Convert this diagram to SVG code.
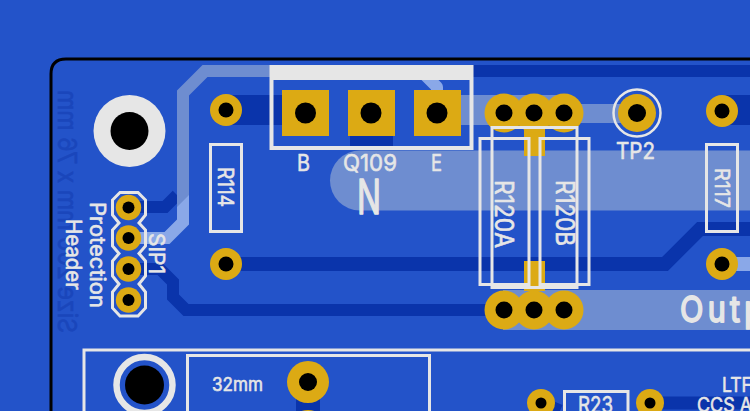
<svg xmlns="http://www.w3.org/2000/svg" width="750" height="411" viewBox="0 0 750 411">
<style>
.t{font-family:"Inter","Liberation Sans",sans-serif;fill:#e6e6e6;stroke:#e6e6e6;stroke-width:.6;stroke-linejoin:round}
.w{fill:none;stroke:#e6e6e6;stroke-width:3}
.d{fill:none;stroke:#0a34ab}
.l{fill:none;stroke:#6e8dd0}
.p{fill:none;stroke:#8aa8e8}
.g{fill:#dcaa14}
.h{fill:#000}
</style>
<rect width="750" height="411" fill="#2353c9"/>
<path d="M750 59H66Q51 59 51 74V411" fill="none" stroke="#000" stroke-width="3"/>
<g id="backtext"><text transform="translate(58,333) rotate(-90) scale(1,-1)" font-family="Inter,'Liberation Sans',sans-serif" font-size="26" fill="#1a46bb" stroke="#1a46bb" stroke-width=".6" textLength="243" lengthAdjust="spacingAndGlyphs">Size 200 mm x 76 mm</text></g>
<g id="connectors">
<path class="d" stroke-width="30" d="M226 110H290"/>
<path class="d" stroke-width="10" d="M350 141H393"/>
<path class="d" stroke-width="12" d="M470 71H750"/>
<path class="d" stroke-width="30" d="M722 110H750"/>
<path class="d" stroke-width="14" d="M226 264H665L700 229H750"/>
<path class="d" stroke-width="12" d="M128 207H165L177 195"/>
<path class="d" stroke-width="12" d="M128 269H160L173 282V297L186 310H500"/>
<path class="d" stroke-width="13" d="M650 403H750M541 403L560 411"/>
<path class="d" stroke-width="24" d="M308 395V411"/>
<path class="l" stroke-width="12" d="M183 207V93L205 71H275"/>
<path d="M177 207L189 195V224.500L169.500 244H128V232H164.500L177 219.500Z" fill="#8aa8e8"/>
<path class="p" stroke-width="12" stroke-linejoin="round" d="M422 72L437 87V100"/>
<path class="l" stroke-width="30" d="M461 110H565"/>
<path class="l" stroke-width="19" d="M565 113.500H630"/>
<path class="l" stroke-width="60" stroke-linecap="round" d="M360 180.500H790"/>
<path class="l" stroke-width="40" d="M503 310H750"/>
<path class="p" stroke-width="14" d="M722 264H750"/>
</g>
<g id="H1"><circle cx="129.500" cy="131" r="36" fill="#e6e6e6"/><circle cx="129.500" cy="131" r="19" class="h"/></g>
<g id="R114"><rect class="w" x="210.500" y="144.500" width="31" height="87"/><text class="t" font-size="21" text-anchor="middle" textLength="40" lengthAdjust="spacingAndGlyphs" transform="translate(218,187) rotate(90)">R114</text></g>
<g id="P1"><circle cx="226" cy="110" r="16" class="g"/><circle cx="226" cy="110" r="7.500" class="h"/></g>
<g id="P2"><circle cx="226" cy="264" r="16" class="g"/><circle cx="226" cy="264" r="7.500" class="h"/></g>
<g id="SIP1">
<path class="w" d="M120 192.500H138L145.500 200V215L139 223L145.500 230V246L139 253.500L145.500 261V276L139 284L145.500 292V308L138 316H120L112.500 308V292L119 284L112.500 276V261L119 253.500L112.500 246V230L119 223L112.500 215V200Z"/>
<circle cx="128.500" cy="207.500" r="12.700" class="g"/><circle cx="128.500" cy="207.500" r="6" class="h"/>
<circle cx="128.500" cy="238" r="12.700" class="g"/><circle cx="128.500" cy="238" r="6" class="h"/>
<circle cx="128.500" cy="269" r="12.700" class="g"/><circle cx="128.500" cy="269" r="6" class="h"/>
<circle cx="128.500" cy="300" r="12.700" class="g"/><circle cx="128.500" cy="300" r="6" class="h"/>
<text class="t" font-size="21" text-anchor="middle" textLength="41" lengthAdjust="spacingAndGlyphs" transform="translate(149,253.500) rotate(90)">SIP1</text>
<text class="t" font-size="21" text-anchor="middle" textLength="106" lengthAdjust="spacingAndGlyphs" transform="translate(90,255) rotate(90)">Protection</text>
<text class="t" font-size="21" text-anchor="middle" textLength="71" lengthAdjust="spacingAndGlyphs" transform="translate(66,254.500) rotate(90)">Header</text>
</g>
<g id="Q109">
<path d="M270 65H473V80H270Z" fill="#e6e6e6"/>
<rect x="271.500" y="67" width="200" height="81" fill="none" stroke="#e6e6e6" stroke-width="4"/>
<rect class="g" x="282" y="90" width="47" height="46"/><circle cx="305.500" cy="113" r="10.500" class="h"/>
<rect class="g" x="348" y="90" width="47" height="46"/><circle cx="371" cy="113" r="10.500" class="h"/>
<rect class="g" x="414" y="90" width="47" height="46"/><circle cx="437" cy="113" r="10.500" class="h"/>
<text class="t" font-size="23" text-anchor="middle" x="303.500" y="171" textLength="13" lengthAdjust="spacingAndGlyphs">B</text>
<text class="t" font-size="23" text-anchor="middle" x="370" y="171" textLength="54" lengthAdjust="spacingAndGlyphs">Q109</text>
<text class="t" font-size="23" text-anchor="middle" x="436.500" y="171" textLength="11" lengthAdjust="spacingAndGlyphs">E</text>
<text class="t" font-size="48" text-anchor="middle" x="369" y="214" textLength="24" lengthAdjust="spacingAndGlyphs" style="stroke-width:1.400">N</text>
</g>
<g id="R120">
<rect class="g" x="524" y="126" width="21" height="30"/>
<rect class="g" x="524" y="261" width="21" height="30"/>
<circle cx="504" cy="113" r="19.500" class="g"/><circle cx="534" cy="113" r="19.500" class="g"/><circle cx="564" cy="113" r="19.500" class="g"/>
<circle cx="504" cy="113" r="8.500" class="h"/><circle cx="534" cy="113" r="8.500" class="h"/><circle cx="564" cy="113" r="8.500" class="h"/>
<circle cx="504" cy="310" r="19.500" class="g"/><circle cx="534" cy="310" r="19.500" class="g"/><circle cx="564" cy="310" r="19.500" class="g"/>
<circle cx="504" cy="310" r="8.500" class="h"/><circle cx="534" cy="310" r="8.500" class="h"/><circle cx="564" cy="310" r="8.500" class="h"/>
<rect class="w" x="480" y="138.500" width="49" height="146"/>
<rect class="w" x="540" y="138.500" width="49" height="146"/>
<rect class="w" x="492" y="127.500" width="85" height="160"/>
<text class="t" font-size="25" text-anchor="middle" textLength="68" lengthAdjust="spacingAndGlyphs" transform="translate(495,214) rotate(90)">R120A</text>
<text class="t" font-size="25" text-anchor="middle" textLength="66" lengthAdjust="spacingAndGlyphs" transform="translate(556,213) rotate(90)">R120B</text>
</g>
<g id="TP2"><circle cx="637" cy="113" r="23.500" fill="none" stroke="#e6e6e6" stroke-width="2.500"/><circle cx="637" cy="113" r="19" class="g"/><circle cx="637" cy="113" r="9" class="h"/><text class="t" font-size="23" text-anchor="middle" x="635.500" y="159" textLength="39" lengthAdjust="spacingAndGlyphs">TP2</text></g>
<g id="R117"><circle cx="722" cy="111" r="16" class="g"/><circle cx="722" cy="111" r="7.500" class="h"/><circle cx="722" cy="264" r="16" class="g"/><circle cx="722" cy="264" r="7.500" class="h"/><rect class="w" x="706.500" y="144.500" width="31" height="87"/><text class="t" font-size="20" text-anchor="middle" textLength="40" lengthAdjust="spacingAndGlyphs" transform="translate(715,188) rotate(90)">R117</text></g>
<g id="output"><text class="t" font-size="36" letter-spacing="5" transform="translate(680,322) scale(.85,1)" style="stroke-width:1.800">Output</text></g>
<g id="lower">
<path class="w" d="M84 411V350H750"/>
<path class="w" d="M187.500 411V355.500H429.500V411"/>
<circle cx="144.500" cy="385" r="28" fill="none" stroke="#e6e6e6" stroke-width="6.500"/><circle cx="144.500" cy="385" r="19.500" class="h"/>
<text class="t" font-size="19" x="212" y="391" textLength="51" lengthAdjust="spacingAndGlyphs">32mm</text>
<circle cx="308" cy="382" r="21" class="g"/><circle cx="308" cy="382" r="9" class="h"/><circle cx="308" cy="431" r="21" class="g"/>
<circle cx="541" cy="403" r="14" class="g"/><circle cx="541" cy="403" r="5.500" class="h"/>
<circle cx="650" cy="403" r="14" class="g"/><circle cx="650" cy="403" r="5.500" class="h"/>
<path class="w" d="M564.500 411V391.500H628V411"/>
<text class="t" font-size="23" text-anchor="middle" x="595.500" y="413" textLength="35" lengthAdjust="spacingAndGlyphs">R23</text>
<text class="t" font-size="20" x="722" y="392" textLength="30" lengthAdjust="spacingAndGlyphs">LTF</text>
<text class="t" font-size="20" x="697" y="412" textLength="55" lengthAdjust="spacingAndGlyphs">CCS A</text>
</g>
</svg>
